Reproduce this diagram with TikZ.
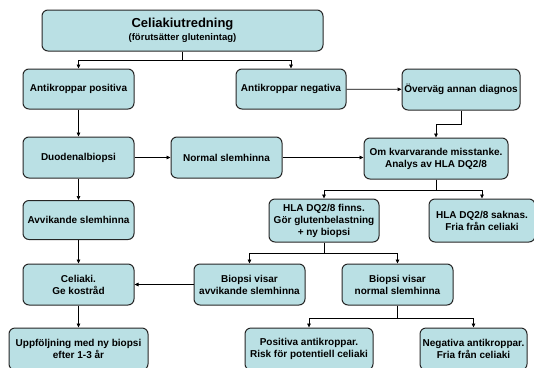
\documentclass[tikz,border=0pt]{standalone}
\usepackage{fontspec}
\setmainfont{Liberation Sans}
\usetikzlibrary{positioning,arrows.meta}
\definecolor{boxfill}{RGB}{186,224,228}

\begin{document}
\begin{tikzpicture}[
  x=1pt, y=-1pt,
  box/.style={rectangle, draw=black!85, line width=1pt, rounded corners=6pt, fill=boxfill, align=center, minimum height=41pt, inner sep=2pt, font=\bfseries\fontsize{10}{12}\selectfont},
  arrow/.style={-{Triangle[length=4pt,width=3.6pt]}, line width=0.7pt},
]
\useasboundingbox (0,0) rectangle (534,367);

% === Top ===
\node[box, minimum width=281pt] (start) at (182.5,30.5) {{\fontsize{13}{15}\selectfont Celiakiutredning}\\[1.5pt]{\fontsize{9.5}{11}\selectfont (förutsätter glutenintag)}};

% === Row 1 ===
\node[box, minimum width=111pt, minimum height=40pt] (pos) at (78.5,89) {Antikroppar positiva};
\node[box, minimum width=110pt, minimum height=40pt] (neg) at (291,89) {Antikroppar negativa};
\node[box, minimum width=118pt] (annan) at (461,89.5) {Överväg annan diagnos};

% === Row 2 ===
\node[box, minimum width=111pt] (duod) at (78.5,157.5) {Duodenalbiopsi};
\node[box, minimum width=111pt] (normal) at (226.5,157.5) {Normal slemhinna};
\node[box, minimum width=144pt] (hla) at (436,158.5) {Om kvarvarande misstanke.\\Analys av HLA DQ2/8};

% === Row 3 ===
\node[box, minimum width=111pt, minimum height=39pt] (avvik) at (78.5,220) {Avvikande slemhinna};
\node[box, minimum width=110pt, minimum height=43pt] (finns) at (324,220.5) {HLA DQ2/8 finns.\\Gör glutenbelastning\\+ ny biopsi};
\node[box, minimum width=106pt, minimum height=43pt] (saknas) at (482,220.5) {HLA DQ2/8 saknas.\\Fria från celiaki};

% === Row 4 ===
\node[box, minimum width=111pt] (celiaki) at (78.5,284.5) {Celiaki.\\Ge kostråd};
\node[box, minimum width=111pt] (bavvik) at (249.5,284.5) {Biopsi visar\\avvikande slemhinna};
\node[box, minimum width=111pt] (bnormal) at (397.5,284.5) {Biopsi visar\\normal slemhinna};

% === Row 5 (cut by page edge) ===
\node[box, minimum width=139pt, minimum height=42pt] (uppf) at (78.5,349) {Uppföljning med ny biopsi\\efter 1-3 år};
\node[box, minimum width=128pt, minimum height=42pt] (potent) at (309,349) {Positiva antikroppar.\\Risk för potentiell celiaki};
\node[box, minimum width=107pt, minimum height=42pt] (fria) at (473.5,349) {Negativa antikroppar.\\Fria från celiaki};

% === Connectors ===
\draw[arrow] (start.south) -- ++(0,9) -| (pos.north);
\draw[arrow] (start.south) -- ++(0,9) -| (neg.north);
\draw[arrow] (neg) -- (annan);
\draw[arrow] (annan.south) -- ++(0,14) -| (hla.north);

\draw[arrow] (pos) -- (duod);
\draw[arrow] (duod) -- (normal);
\draw[arrow] (normal.east) -- (normal.east -| hla.west);
\draw[arrow] (duod) -- (avvik);
\draw[arrow] (avvik) -- (celiaki);
\draw[arrow] (celiaki) -- (uppf);

\draw[arrow] (hla.south) -- ++(0,10.5) -| (finns.north);
\draw[arrow] (hla.south) -- ++(0,10.5) -| (saknas.north);

\draw[arrow] (finns.south) -- ++(0,11) -| (bavvik.north);
\draw[arrow] (finns.south) -- ++(0,11) -| (bnormal.north);
\draw[arrow] (bavvik) -- (celiaki);

\draw[arrow] (bnormal.south) -- ++(0,12.5) -| (potent.north);
\draw[arrow] (bnormal.south) -- ++(0,12.5) -| (fria.north);

\end{tikzpicture}
\end{document}
